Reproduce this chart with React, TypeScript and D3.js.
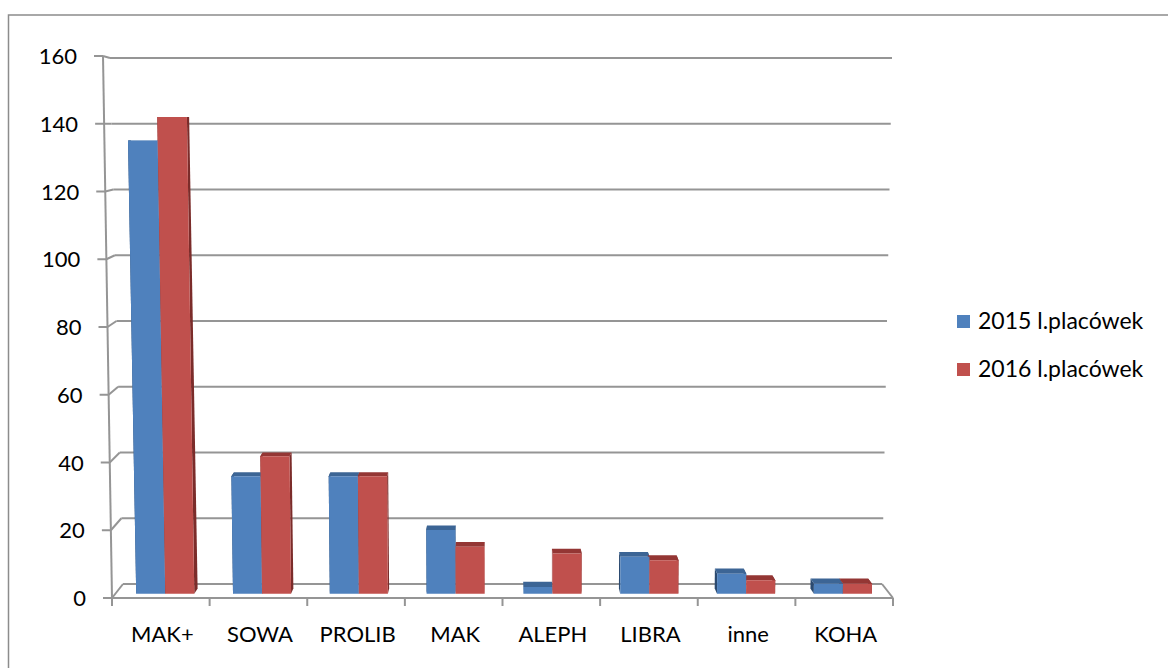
import React from 'react';
import * as d3 from 'd3';

const categories = ['MAK+', 'SOWA', 'PROLIB', 'MAK', 'ALEPH', 'LIBRA', 'inne', 'KOHA'];
const series = ['2015 l.placówek', '2016 l.placówek'];
const values2015 = [135, 35, 35, 19, 2, 11, 6, 3];
const values2016 = [142, 41, 35, 14, 12, 10, 4, 3];
const yTicks = [0, 20, 40, 60, 80, 100, 120, 140, 160];

const FONT = 'Lato, "Open Sans", sans-serif';
const GRID = '#959595';

const front = { face: ['#4F81BD', '#C0504D'], top: ['#3C6595', '#943634'], side: ['#2B4A70', '#7B2C2A'] };

export default function App() {
  const width = 1168;
  const height = 668;

  // front plane (axis) and back wall corners, as scales over the value
  const fx0 = d3.scaleLinear().domain([0, 160]).range([112, 103]);
  const fx1 = d3.scaleLinear().domain([0, 160]).range([893, 901]);
  const fy = d3.scaleLinear().domain([0, 160]).range([598, 56]);
  const bx0 = d3.scaleLinear().domain([0, 160]).range([123, 110]);
  const bx1 = d3.scaleLinear().domain([0, 160]).range([882, 892]);
  const by = d3.scaleLinear().domain([0, 160]).range([584, 58]);

  const u = d3.scaleBand().domain(categories).range([0, 1]);
  const bw = u.bandwidth();

  // projects (fraction across, value, depth) to the page
  const proj = (uu: number, v: number, z: number): [number, number] => {
    const xf = fx0(v) + (fx1(v) - fx0(v)) * uu;
    const xb = bx0(v) + (bx1(v) - bx0(v)) * uu;
    return [xf + (xb - xf) * z, fy(v) + (by(v) - fy(v)) * z];
  };
  const poly = (pts: [number, number][]) => pts.map(p => p.join(',')).join(' ');

  const z0 = 0.3;
  const z1 = 0.68;
  const barW = bw * 0.3;

  const groups = categories.map((c, i) => {
    const center = (u(c) || 0) + bw / 2 + 0.002;
    const bars = [values2015[i], values2016[i]].map((v, s) => {
      const a = center - barW + s * barW;
      const b = a + barW;
      return {
        s,
        frontFace: poly([proj(a, 0, z0), proj(b, 0, z0), proj(b, v, z0), proj(a, v, z0)]),
        topFace: poly([proj(a, v, z0), proj(b, v, z0), proj(b, v, z1), proj(a, v, z1)]),
        left: poly([proj(a, 0, z0), proj(a, v, z0), proj(a, v, z1), proj(a, 0, z1)]),
        right: poly([proj(b, 0, z0), proj(b, v, z0), proj(b, v, z1), proj(b, 0, z1)]),
      };
    });
    return { c, center, bars };
  });

  const floorL = proj(0, 0, 0);
  const floorR = proj(1, 0, 0);

  return (
    <svg width={width} height={height} style={{ position: 'absolute', left: 0, top: 0, background: '#fff' }}>
      <rect x={8.5} y={15} width={1300} height={800} fill="#fff" stroke="#8c8c8c" strokeWidth={1.5} />

      {/* back wall gridlines with their connectors */}
      {yTicks.map(t => (
        <g key={t}>
          <line x1={bx0(t)} y1={by(t)} x2={bx1(t)} y2={by(t)} stroke={GRID} strokeWidth={2} />
          <line x1={fx0(t)} y1={fy(t)} x2={bx0(t)} y2={by(t)} stroke={GRID} strokeWidth={2} />
          <line x1={fx0(t) - 9} y1={fy(t)} x2={fx0(t)} y2={fy(t)} stroke={GRID} strokeWidth={2} />
          <text x={fx0(t) - 26} y={fy(t) + 8} textAnchor="end" fontFamily={FONT} fontSize={22} fill="#000">
            {t}
          </text>
        </g>
      ))}

      {/* value axis and floor */}
      <line x1={fx0(0)} y1={fy(0)} x2={fx0(160)} y2={fy(160)} stroke={GRID} strokeWidth={2} />
      <line x1={floorL[0]} y1={floorL[1]} x2={floorR[0]} y2={floorR[1]} stroke={GRID} strokeWidth={2} />
      <line x1={bx1(0)} y1={by(0)} x2={floorR[0]} y2={floorR[1]} stroke={GRID} strokeWidth={2} />
      {d3.range(categories.length + 1).map(k => {
        const p = proj(k / categories.length, 0, 0);
        return <line key={k} x1={p[0]} y1={p[1]} x2={p[0]} y2={p[1] + 8} stroke={GRID} strokeWidth={2} />;
      })}

      {/* bars */}
      {groups.map(g => (
        <g key={g.c}>
          {g.bars.map(b => (
            <g key={'s' + b.s}>
              <polygon points={b.left} fill={front.side[b.s]} />
              <polygon points={b.right} fill={front.side[b.s]} />
            </g>
          ))}
          {g.bars.map(b => (
            <polygon key={'t' + b.s} points={b.topFace} fill={front.top[b.s]} />
          ))}
          {g.bars.map(b => (
            <polygon key={'f' + b.s} points={b.frontFace} fill={front.face[b.s]} />
          ))}
          <text x={proj(g.center, 0, 0)[0]} y={642} textAnchor="middle" fontFamily={FONT} fontSize={22} fill="#000">
            {g.c}
          </text>
        </g>
      ))}

      {/* legend */}
      {series.map((s, i) => (
        <g key={s} transform={`translate(957, ${315 + i * 48})`}>
          <rect x={0} y={0} width={13} height={13} fill={front.face[i]} />
          <text x={21} y={14} fontFamily={FONT} fontSize={23} fill="#000">
            {s}
          </text>
        </g>
      ))}
    </svg>
  );
}
